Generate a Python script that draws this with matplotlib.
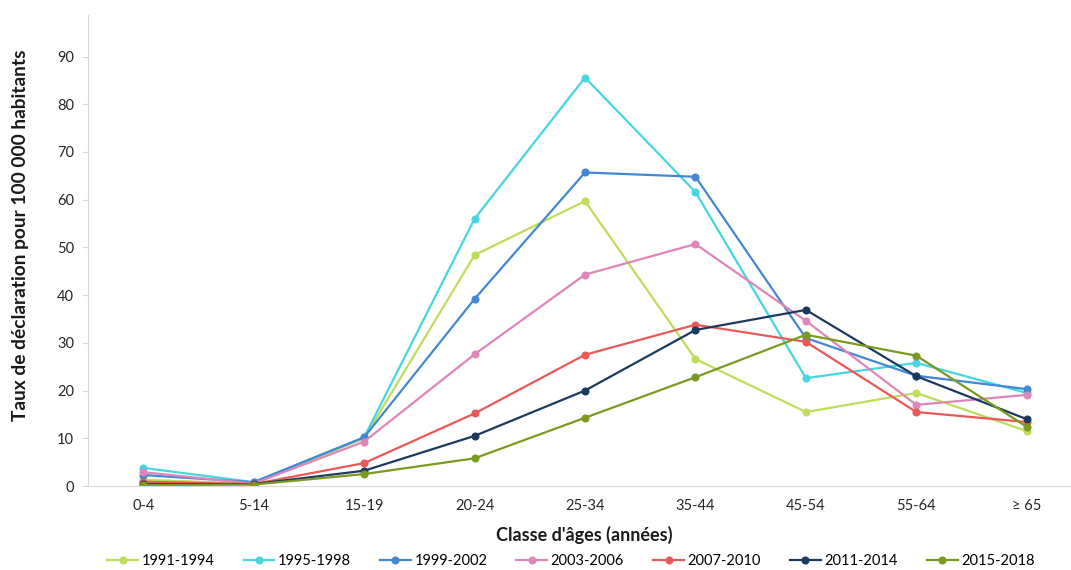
import matplotlib.pyplot as plt

plt.rcParams['font.family'] = ['Lato', 'DejaVu Sans']

# age classes
categories = ['0-4', '5-14', '15-19', '20-24', '25-34', '35-44', '45-54', '55-64', '≥ 65']

# declaration rates per 100 000 inhabitants, one list per period
r_1991_1994 = [1.3, 0.5, 10.0, 48.4, 59.7, 26.6, 15.5, 19.5, 11.5]
r_1995_1998 = [3.8, 0.8, 10.2, 56.0, 85.6, 61.6, 22.6, 25.8, 19.5]
r_1999_2002 = [2.3, 0.8, 10.2, 39.2, 65.7, 64.8, 31.0, 23.1, 20.3]
r_2003_2006 = [2.9, 0.5, 9.3, 27.6, 44.3, 50.7, 34.6, 17.0, 19.1]
r_2007_2010 = [0.9, 0.4, 4.8, 15.2, 27.5, 33.8, 30.2, 15.5, 13.4]
r_2011_2014 = [0.4, 0.4, 3.2, 10.5, 20.0, 32.7, 36.9, 23.0, 14.0]
r_2015_2018 = [0.2, 0.3, 2.5, 5.8, 14.3, 22.8, 31.7, 27.3, 12.4]

periods = ['1991-1994', '1995-1998', '1999-2002', '2003-2006',
           '2007-2010', '2011-2014', '2015-2018']
series = [r_1991_1994, r_1995_1998, r_1999_2002, r_2003_2006,
          r_2007_2010, r_2011_2014, r_2015_2018]
colors = ['#BEDD5A', '#45D6E0', '#4388D5', '#E085B9',
          '#EB5858', '#1A3A5E', '#7A9A1F']

fig = plt.figure(figsize=(10.71, 5.70), dpi=100)
ax = fig.add_axes([88 / 1071, 1 - 486 / 570, (1071 - 88) / 1071, 471 / 570])

x = range(len(categories))
for vals, name, c in zip(series, periods, colors):
    ax.plot(x, vals, color=c, lw=1.6, marker='o', ms=4.8, label=name)

ax.set_xlim(-0.5, 8.4)
ax.set_ylim(0, 98.7)
ax.set_yticks(range(0, 100, 10))
ax.set_xticks(list(x))
ax.set_xticklabels(categories)

for side in ['top', 'right']:
    ax.spines[side].set_visible(False)
for side in ['left', 'bottom']:
    ax.spines[side].set_color('#D9D9D9')
ax.tick_params(axis='x', length=0, pad=9, labelsize=10.5, colors='#262626')
ax.tick_params(axis='y', length=4, color='#D9D9D9', pad=6, labelsize=10.5,
               colors='#262626')

ax.set_xlabel("Classe d'âges (années)", fontsize=13, fontweight='bold',
              color='#1a1a1a')
ax.xaxis.set_label_coords(0.5046, -0.085)
ax.set_ylabel('Taux de déclaration pour 100 000 habitants', fontsize=13.8,
              fontweight='bold', color='#1a1a1a', va='center')
ax.yaxis.set_label_coords(-0.069, 0.533)

fig.legend(*ax.get_legend_handles_labels(), loc='center',
           bbox_to_anchor=(571 / 1071, 1 - 561 / 570), ncol=7, frameon=False,
           fontsize=10.5, numpoints=1, handlelength=2.1, columnspacing=2.0,
           handletextpad=0.25)

fig.savefig('out.png', dpi=100)
